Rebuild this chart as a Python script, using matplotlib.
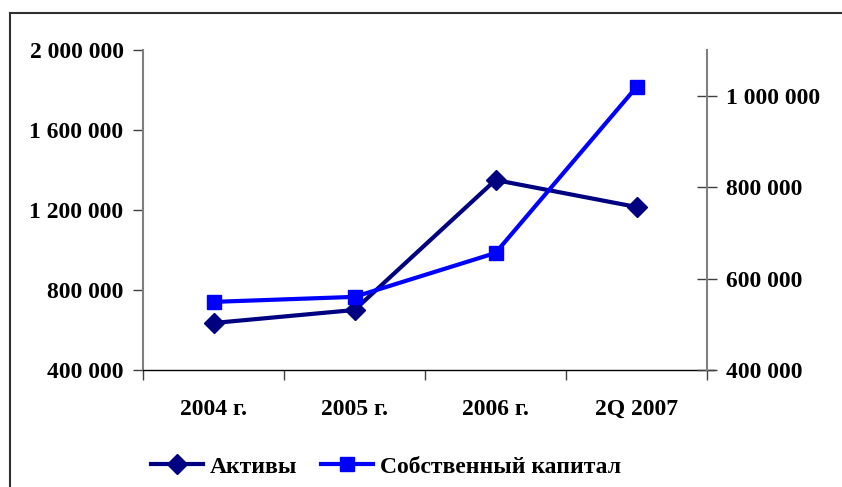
import matplotlib.pyplot as plt
from matplotlib.lines import Line2D
from matplotlib.ticker import FuncFormatter

categories = ['2004 г.', '2005 г.', '2006 г.', '2Q 2007']
assets = [635000, 700000, 1350000, 1215000]
equity = [549000, 560000, 656000, 1019000]
left_ticks = [400000, 800000, 1200000, 1600000, 2000000]
right_ticks = [400000, 600000, 800000, 1000000]

plt.rcParams['font.family'] = ['Liberation Serif', 'DejaVu Serif']
plt.rcParams['font.weight'] = 'bold'


def fmt(v, pos=None):
    return f"{v:,.0f}".replace(",", " ")


fig = plt.figure(figsize=(8.42, 4.87), dpi=100)
ax = fig.add_axes([143 / 842, 1 - 370 / 487, (707 - 143) / 842, 320 / 487])
ax2 = ax.twinx()

x = list(range(len(categories)))
ax.plot(x, assets, color='#000080', lw=3, marker='D', ms=10, clip_on=False)
ax2.plot(x, equity, color='#0000FF', lw=3, marker='s', ms=10, clip_on=False)

ax.set_xlim(-0.5, 3.5)
ax.set_ylim(400000, 2000000)
ax2.set_ylim(400000, 1100000)

ax.set_yticks(left_ticks)
ax.yaxis.set_major_formatter(FuncFormatter(fmt))
ax2.set_yticks(right_ticks)
ax2.yaxis.set_major_formatter(FuncFormatter(fmt))

ax.set_xticks([-0.5, 0.5, 1.5, 2.5, 3.5])
ax.set_xticklabels([])
ax.set_xticks(x, minor=True)
ax.set_xticklabels(categories, minor=True)
ax.tick_params(axis='x', which='major', direction='out', length=7, width=1, color='#404040')
ax.tick_params(axis='x', which='minor', length=0, pad=21, labelsize=17)
ax.tick_params(axis='y', direction='out', length=7, width=1, color='#404040', pad=7, labelsize=17)
ax2.tick_params(axis='y', direction='inout', length=14, width=1, color='#404040', pad=7, labelsize=17)

for s in ['top', 'right']:
    ax.spines[s].set_visible(False)
for s in ['top', 'left', 'bottom']:
    ax2.spines[s].set_visible(False)
ax.spines['left'].set_color('#808080')
ax.spines['left'].set_linewidth(1.5)
ax2.spines['right'].set_color('#808080')
ax2.spines['right'].set_linewidth(1.5)
ax.spines['bottom'].set_color('black')
ax.spines['bottom'].set_linewidth(1)
ax.spines['bottom'].set_bounds(-0.5, 3.55)

handles = [
    Line2D([], [], color='#000080', lw=3, marker='D', ms=10),
    Line2D([], [], color='#0000FF', lw=3, marker='s', ms=10),
]
fig.legend(handles, ['Активы', 'Собственный капитал'], loc='center',
           bbox_to_anchor=(386 / 842, 1 - 467 / 487), ncol=2, frameon=False,
           fontsize=17, handlelength=2.2, handletextpad=0.3, columnspacing=1.0)

# outer chart border (cropped on the right and bottom)
fig.add_artist(Line2D([10 / 842, 1], [1 - 13 / 487, 1 - 13 / 487], color='#303030', lw=1.5))
fig.add_artist(Line2D([10 / 842, 10 / 842], [0, 1 - 13 / 487], color='#303030', lw=1.5))

fig.savefig('out.png', dpi=100)
